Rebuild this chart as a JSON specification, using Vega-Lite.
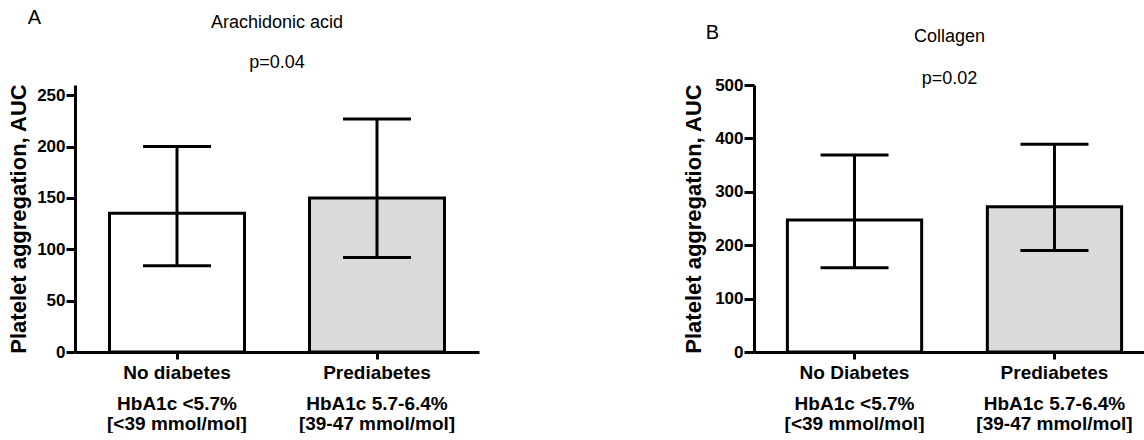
{
  "$schema": "https://vega.github.io/schema/vega-lite/v6.json",
  "padding": {"left": 7, "top": 4, "right": 0, "bottom": 0},
  "spacing": 203,
  "config": {
    "font": "Liberation Sans",
    "view": {"stroke": null},
    "axis": {"grid": false, "domainColor": "black", "domainWidth": 3, "tickColor": "black", "tickWidth": 3, "labelColor": "black", "titleColor": "black", "labelFont": "Liberation Sans", "titleFont": "Liberation Sans", "labelFontWeight": "bold", "titleFontWeight": "bold"},
    "title": {"font": "Liberation Sans", "fontWeight": "normal", "color": "black", "subtitleColor": "black", "subtitleFont": "Liberation Sans"}
  },
  "datasets": {
    "arachidonic": [
      {"group": "No diabetes|HbA1c <5.7%|[<39 mmol/mol]", "status": "No diabetes", "median": 135, "low": 84, "high": 200},
      {"group": "Prediabetes|HbA1c 5.7-6.4%|[39-47 mmol/mol]", "status": "Prediabetes", "median": 150, "low": 92, "high": 227}
    ],
    "collagen": [
      {"group": "No Diabetes|HbA1c <5.7%|[<39 mmol/mol]", "status": "No diabetes", "median": 247, "low": 158, "high": 369},
      {"group": "Prediabetes|HbA1c 5.7-6.4%|[39-47 mmol/mol]", "status": "Prediabetes", "median": 272, "low": 190, "high": 389}
    ]
  },
  "hconcat": [
    {
      "title": {"text": "A", "anchor": "start", "fontSize": 20, "dx": 20, "offset": -13.5},
      "hconcat": [
        {
          "data": {"name": "arachidonic"},
          "width": 404,
          "height": 267,
          "title": {"text": "Arachidonic acid", "subtitle": "p=0.04", "fontSize": 18, "subtitleFontSize": 18, "subtitlePadding": 22, "frame": "group", "anchor": "middle", "offset": 11},
          "layer": [
            {"mark": {"type": "bar", "stroke": "black", "strokeWidth": 3},
              "encoding": {
                "x": {"field": "group", "type": "nominal", "sort": null, "scale": {"paddingInner": 0.325, "paddingOuter": 0.1725},
                  "axis": {"title": null, "orient": "bottom", "labelExpr": "split(datum.label, '|')[0]", "labelAngle": 0, "labelFontSize": 19, "tickSize": 7, "labelPadding": 4}},
                "y": {"field": "median", "type": "quantitative", "title": "Platelet aggregation, AUC", "scale": {"domain": [0, 250]},
                  "axis": {"values": [0, 50, 100, 150, 200, 250], "labelFontSize": 17, "titleFontSize": 22, "tickSize": 9, "labelPadding": 1, "titlePadding": 6}},
                "color": {"field": "status", "type": "nominal", "scale": {"domain": ["No diabetes", "Prediabetes"], "range": ["#ffffff", "#d9dadc"]}, "legend": null}
              }},
            {"mark": {"type": "rule", "strokeWidth": 3, "color": "black"},
              "encoding": {
                "x": {"field": "group", "type": "nominal", "sort": null,
                  "axis": {"title": null, "orient": "bottom", "labelExpr": "slice(split(datum.label, '|'), 1)", "labelAngle": 0, "labelFontSize": 19, "labelLineHeight": 20, "domain": false, "ticks": false, "tickSize": 0, "labelPadding": 42}},
                "y": {"field": "low", "type": "quantitative", "title": "Platelet aggregation, AUC"}, "y2": {"field": "high"}}},
            {"mark": {"type": "tick", "size": 68, "thickness": 3, "color": "black", "opacity": 1},
              "encoding": {"x": {"field": "group", "type": "nominal", "sort": null, "axis": null}, "y": {"field": "low", "type": "quantitative", "title": "Platelet aggregation, AUC"}}},
            {"mark": {"type": "tick", "size": 68, "thickness": 3, "color": "black", "opacity": 1},
              "encoding": {"x": {"field": "group", "type": "nominal", "sort": null, "axis": null}, "y": {"field": "high", "type": "quantitative", "title": "Platelet aggregation, AUC"}}}
          ],
          "resolve": {"axis": {"x": "independent"}}
        }
      ]
    },
    {
      "title": {"text": ["", "B"], "anchor": "start", "fontSize": 20, "lineHeight": 19, "dx": 23, "offset": -15},
      "hconcat": [
        {
          "data": {"name": "collagen"},
          "width": 391,
          "height": 267,
          "title": {"text": "Collagen", "subtitle": "p=0.02", "fontSize": 18, "subtitleFontSize": 18, "subtitlePadding": 24, "frame": "group", "anchor": "middle", "offset": -12},
          "layer": [
            {"mark": {"type": "bar", "stroke": "black", "strokeWidth": 3},
              "encoding": {
                "x": {"field": "group", "type": "nominal", "sort": null, "scale": {"paddingInner": 0.3285, "paddingOuter": 0.142, "align": 0.588},
                  "axis": {"title": null, "orient": "bottom", "labelExpr": "split(datum.label, '|')[0]", "labelAngle": 0, "labelFontSize": 19, "tickSize": 7, "labelPadding": 4}},
                "y": {"field": "median", "type": "quantitative", "title": "Platelet aggregation, AUC", "scale": {"domain": [0, 500]},
                  "axis": {"values": [0, 100, 200, 300, 400, 500], "labelFontSize": 17, "titleFontSize": 22, "tickSize": 10, "labelPadding": 1, "titlePadding": 9}},
                "color": {"field": "status", "type": "nominal", "scale": {"domain": ["No diabetes", "Prediabetes"], "range": ["#ffffff", "#d9dadc"]}, "legend": null}
              }},
            {"mark": {"type": "rule", "strokeWidth": 3, "color": "black"},
              "encoding": {
                "x": {"field": "group", "type": "nominal", "sort": null,
                  "axis": {"title": null, "orient": "bottom", "labelExpr": "slice(split(datum.label, '|'), 1)", "labelAngle": 0, "labelFontSize": 19, "labelLineHeight": 20, "domain": false, "ticks": false, "tickSize": 0, "labelPadding": 42}},
                "y": {"field": "low", "type": "quantitative", "title": "Platelet aggregation, AUC"}, "y2": {"field": "high"}}},
            {"mark": {"type": "tick", "size": 68, "thickness": 3, "color": "black", "opacity": 1},
              "encoding": {"x": {"field": "group", "type": "nominal", "sort": null, "axis": null}, "y": {"field": "low", "type": "quantitative", "title": "Platelet aggregation, AUC"}}},
            {"mark": {"type": "tick", "size": 68, "thickness": 3, "color": "black", "opacity": 1},
              "encoding": {"x": {"field": "group", "type": "nominal", "sort": null, "axis": null}, "y": {"field": "high", "type": "quantitative", "title": "Platelet aggregation, AUC"}}}
          ],
          "resolve": {"axis": {"x": "independent"}}
        }
      ]
    }
  ],
  "resolve": {"scale": {"color": "independent"}}
}
